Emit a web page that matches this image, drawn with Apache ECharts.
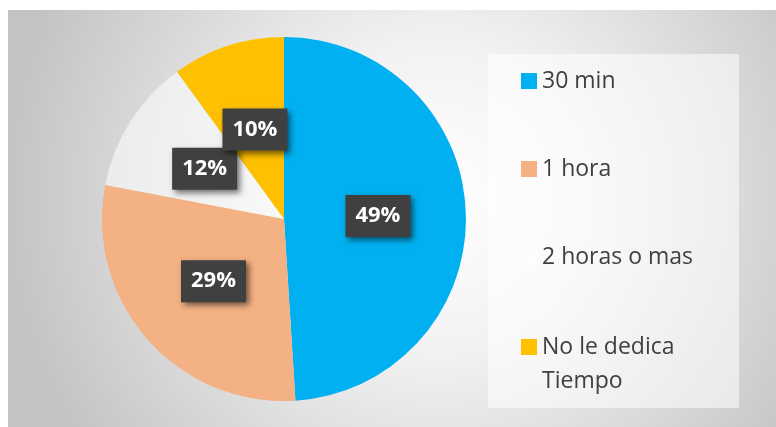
<!DOCTYPE html>
<html>
<head>
<meta charset="utf-8">
<script src="https://cdn.jsdelivr.net/npm/echarts@6/dist/echarts.min.js"></script>
<style>
html,body{margin:0;padding:0;background:#fff;}
#main{width:776px;height:427px;}
</style>
</head>
<body>
<div id="main"></div>
<script>
const categories = ['30 min', '1 hora', '2 horas o mas', 'No le dedica\nTiempo'];
const values = [49, 29, 12, 10];
const colors = ['#00B0F0', '#F4B183', 'rgba(255,255,255,0.55)', '#FFC000'];

const chart = echarts.init(document.getElementById('main'));
const legendText = {
  color: '#404040',
  fontFamily: 'Open Sans',
  fontSize: 23,
  lineHeight: 34
};
const option = {
  animation: false,
  backgroundColor: '#ffffff',
  graphic: [
    {
      type: 'rect', z: -10, silent: true,
      shape: { x: 8, y: 10, width: 768, height: 417 },
      style: {
        fill: {
          type: 'radial', x: 0.56, y: 0.45, r: 1.05,
          colorStops: [
            { offset: 0, color: '#ffffff' },
            { offset: 0.35, color: '#f2f2f2' },
            { offset: 1, color: '#c3c3c3' }
          ]
        }
      }
    },
    {
      type: 'rect', z: -9, silent: true,
      shape: { x: 488, y: 54, width: 251, height: 354 },
      style: { fill: 'rgba(255,255,255,0.55)' }
    }
  ],
  legend: [
    {
      orient: 'vertical',
      left: 521, top: 64,
      padding: 0,
      itemWidth: 16, itemHeight: 16,
      itemGap: 54,
      icon: 'rect',
      textStyle: legendText,
      data: categories.slice(0, 3)
    },
    {
      orient: 'vertical',
      left: 521, top: 296,
      padding: 0,
      itemWidth: 16, itemHeight: 16,
      icon: 'rect',
      textStyle: legendText,
      formatter: name => '\u00a0\n' + name,
      data: categories.slice(3)
    }
  ],
  series: [{
    type: 'pie',
    center: [284, 219],
    radius: 182,
    startAngle: 90,
    clockwise: true,
    silent: true,
    data: categories.map((c, i) => ({ name: c, value: values[i], itemStyle: { color: colors[i] } })),
    labelLayout: { hideOverlap: false },
    label: {
      show: true,
      position: 'inside',
      formatter: p => p.value + '%',
      color: '#ffffff',
      fontFamily: 'Open Sans',
      fontWeight: 'bold',
      fontSize: 22,
      lineHeight: 24,
      backgroundColor: '#404040',
      padding: [9, 10],
      shadowColor: 'rgba(0,0,0,0.55)',
      shadowBlur: 6,
      shadowOffsetX: 3,
      shadowOffsetY: 3
    },
    labelLine: { show: false }
  }]
};
chart.setOption(option);
</script>
</body>
</html>
